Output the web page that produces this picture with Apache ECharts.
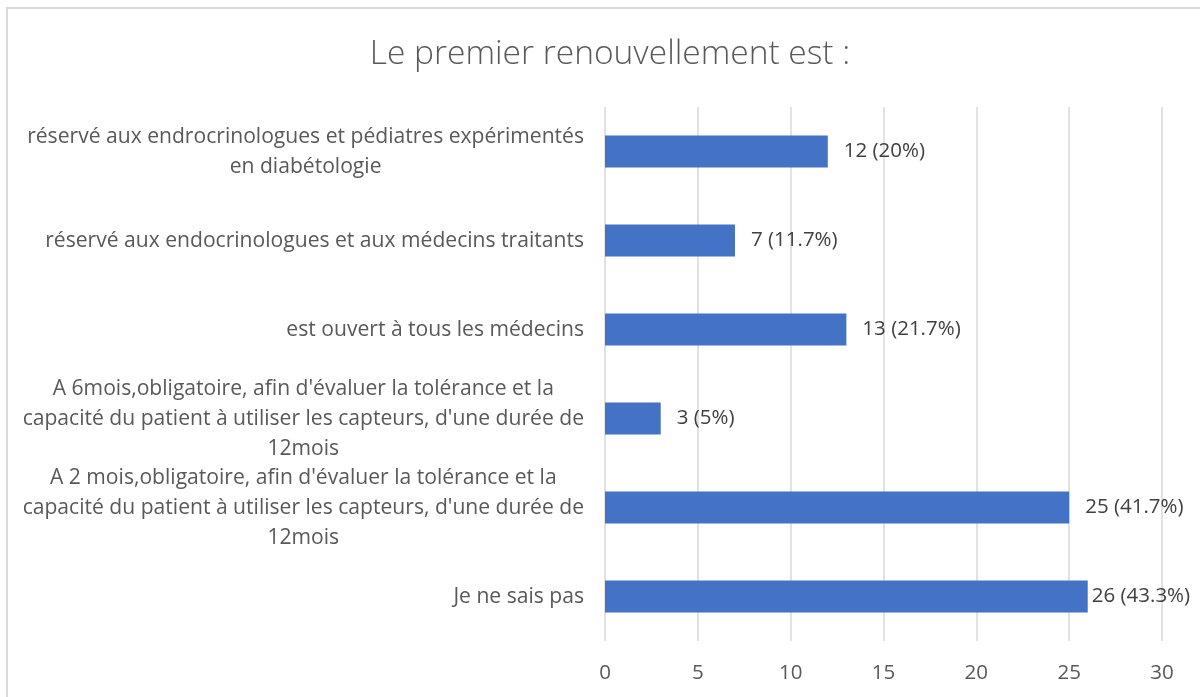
<!DOCTYPE html>
<html>
<head>
<meta charset="utf-8">
<script src="https://cdn.jsdelivr.net/npm/echarts@6/dist/echarts.min.js"></script>
<style>
html,body{margin:0;padding:0;background:#fff;}
#chart{width:1200px;height:697px;}
</style>
</head>
<body>
<div id="chart"></div>
<script>
// Categories listed bottom to top (as drawn by the category axis)
var categories = [
  "Je ne sais pas",
  "A 2 mois,obligatoire, afin d'évaluer la tolérance et la\ncapacité du patient à utiliser les capteurs, d'une durée de\n12mois",
  "A 6mois,obligatoire, afin d'évaluer la tolérance et la\ncapacité du patient à utiliser les capteurs, d'une durée de\n12mois",
  "est ouvert à tous les médecins",
  "réservé aux endocrinologues et aux médecins traitants",
  "réservé aux endrocrinologues et pédiatres expérimentés\nen diabétologie"
];
var counts = [26, 25, 3, 13, 7, 12];
var percents = ["43.3%", "41.7%", "5%", "21.7%", "11.7%", "20%"];
var xTicks = [0, 5, 10, 15, 20, 25, 30];
var title = "Le premier renouvellement est :";

var FONT = "Open Sans";
var AXIS_MAX = xTicks[xTicks.length - 1];

// Labels sit 16px right of the bar; the longest bar's label is squeezed to stay inside the frame
var barData = counts.map(function (v) {
  var maxVal = Math.max.apply(null, counts);
  return v === maxVal ? {value: v, label: {distance: 4}} : {value: v};
});

var chart = echarts.init(document.getElementById('chart'));
chart.setOption({
  animation: false,
  backgroundColor: '#fff',
  title: {
    text: title,
    left: 605,
    top: 32,
    textAlign: 'center',
    textStyle: {fontFamily: FONT, fontSize: 33.5, fontWeight: 300, color: '#595959'}
  },
  graphic: [{
    type: 'rect',
    shape: {x: 7, y: 8, width: 1200, height: 700},
    style: {fill: 'none', stroke: '#d9d9d9', lineWidth: 2},
    silent: true
  }],
  grid: {left: 605, right: 38, top: 107, bottom: 56, containLabel: false},
  xAxis: {
    type: 'value',
    min: xTicks[0],
    max: AXIS_MAX,
    interval: 5,
    axisLine: {show: false},
    axisTick: {show: false},
    splitLine: {show: true, lineStyle: {color: '#d9d9d9', width: 1.5}},
    axisLabel: {fontFamily: FONT, fontSize: 20.5, color: '#595959', margin: 22}
  },
  yAxis: {
    type: 'category',
    data: categories,
    axisLine: {show: false},
    axisTick: {show: false},
    axisLabel: {
      margin: 21,
      align: 'right',
      formatter: function (v) { return '{c|' + v + '}'; },
      rich: {
        c: {align: 'center', fontFamily: FONT, fontSize: 21.1, color: '#595959', lineHeight: 30}
      }
    }
  },
  series: [{
    type: 'bar',
    data: barData,
    barWidth: 32,
    itemStyle: {color: '#4472c4'},
    label: {
      show: true,
      position: 'right',
      distance: 16,
      fontFamily: FONT,
      fontSize: 20.5,
      color: '#404040',
      formatter: function (p) { return counts[p.dataIndex] + ' (' + percents[p.dataIndex] + ')'; }
    }
  }]
});
</script>
</body>
</html>
